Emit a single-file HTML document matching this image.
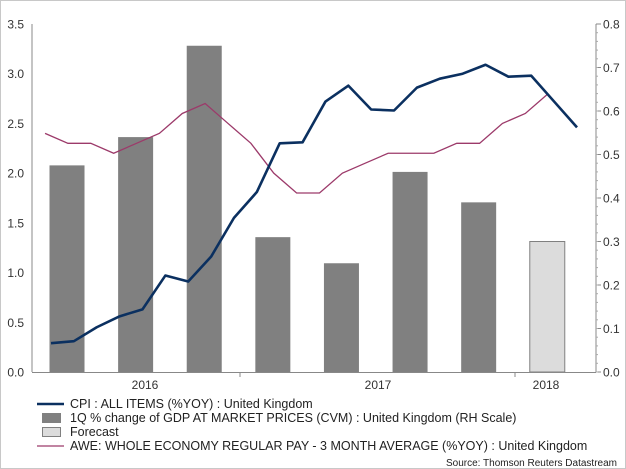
<!DOCTYPE html>
<html><head><meta charset="utf-8"><style>
body{margin:0;background:#fff}
svg{display:block;font-family:"Liberation Sans",sans-serif}
</style></head><body>
<svg width="626" height="469">
<rect x="0.5" y="0.5" width="625" height="468" fill="#fff" stroke="#c8c8c8"/>
<g id="grid"></g><g id="bars"></g><g id="lines"></g><g id="axes"></g>
<g font-size="12.5" fill="#222">
 <line x1="37" y1="404" x2="64" y2="404" stroke="#0b3060" stroke-width="2.5"/>
 <text x="70" y="408">CPI : ALL ITEMS (%YOY) : United Kingdom</text>
 <rect x="42" y="413" width="19" height="10" fill="#808080"/>
 <text x="70" y="422">1Q % change of GDP AT MARKET PRICES (CVM) : United Kingdom (RH Scale)</text>
 <rect x="42.5" y="427.5" width="18" height="9" fill="#dcdcdc" stroke="#808080"/>
 <text x="70" y="436">Forecast</text>
 <line x1="37" y1="446" x2="64" y2="446" stroke="#9c3a6a" stroke-width="1.3"/>
 <text x="70" y="450">AWE: WHOLE ECONOMY REGULAR PAY - 3 MONTH AVERAGE (%YOY) : United Kingdom</text>
</g>
<text x="617" y="466" font-size="10" text-anchor="end" fill="#222">Source: Thomson Reuters Datastream</text>
</svg>
<script>
const cpiValues=[0.29,0.31,0.45,0.56,0.63,0.97,0.91,1.16,1.55,1.81,2.30,2.31,2.72,2.88,2.64,2.63,2.86,2.95,3.00,3.09,2.97,2.98,2.72,2.46];
const aweValues=[2.4,2.3,2.3,2.2,2.3,2.4,2.6,2.7,2.5,2.3,2.0,1.8,1.8,2.0,2.1,2.2,2.2,2.2,2.3,2.3,2.5,2.6,2.8];
const gdpValues=[0.475,0.54,0.75,0.31,0.25,0.46,0.39,0.30];
const gdpForecast=[false,false,false,false,false,false,false,true];
const leftTicks=["0.0","0.5","1.0","1.5","2.0","2.5","3.0","3.5"];
const rightTicks=["0.0","0.1","0.2","0.3","0.4","0.5","0.6","0.7","0.8"];
const yearLabels=["2016","2017","2018"];
const yearPos=[145,378,546];
const ns="http://www.w3.org/2000/svg";
const X0=32,X1=596,Y0=372,Y1=24;
const yL=v=>Y0-(v/3.5)*(Y0-Y1);
const yR=v=>Y0-(v/0.8)*(Y0-Y1);
const xM=i=>51+i*22.87;
function mk(t,a,p){const e=document.createElementNS(ns,t);for(const k in a)e.setAttribute(k,a[k]);p.appendChild(e);return e;}
const bars=document.getElementById('bars');
gdpValues.forEach((v,k)=>{const cx=xM(0.7+3*k);const f=gdpForecast[k];
 const r=mk('rect',{x:cx-17.5,y:yR(v),width:35,height:Y0-yR(v),fill:f?'#dcdcdc':'#808080',stroke:f?'#808080':'none'},bars);
 
 });
const lines=document.getElementById('lines');
const awe=mk('polyline',{points:aweValues.map((v,i)=>xM(i-0.26)+','+yL(v)).join(' '),fill:'none',stroke:'#9c3a6a','stroke-width':1.3},lines);


const cpi=mk('polyline',{points:cpiValues.map((v,i)=>xM(i)+','+yL(v)).join(' '),fill:'none',stroke:'#0b3060','stroke-width':2.6,'stroke-linejoin':'round'},lines);


const ax=document.getElementById('axes');
mk('line',{x1:X0,y1:Y1,x2:X0,y2:Y0,stroke:'#888'},ax);
mk('line',{x1:X1,y1:Y1,x2:X1,y2:Y0,stroke:'#888'},ax);
mk('line',{x1:X0,y1:Y0+0.5,x2:X1,y2:Y0+0.5,stroke:'#888'},ax);
leftTicks.forEach(t=>{const y=yL(+t);
 const e=mk('text',{x:24,y:y+4.5,'font-size':12,'text-anchor':'end',fill:'#333'},ax);e.textContent=t;
 
 });
rightTicks.forEach(t=>{const y=yR(+t);
 mk('line',{x1:X1,y1:y,x2:X1+5,y2:y,stroke:'#888'},ax);
 const e=mk('text',{x:603,y:y+4.5,'font-size':12,fill:'#333'},ax);e.textContent=t;
 
 });
for(let v=0;v<0.8;v+=0.02){const y=yR(v);mk('line',{x1:X1,y1:y,x2:X1+2,y2:y,stroke:'#aaa'},ax);}
[240,515].forEach(x=>mk('line',{x1:x,y1:Y0,x2:x,y2:Y0+5,stroke:'#888'},ax));
yearLabels.forEach((t,i)=>{const e=mk('text',{x:yearPos[i],y:389,'font-size':12,'text-anchor':'middle',fill:'#333'},ax);e.textContent=t;
 
 });
</script>
</body></html>
